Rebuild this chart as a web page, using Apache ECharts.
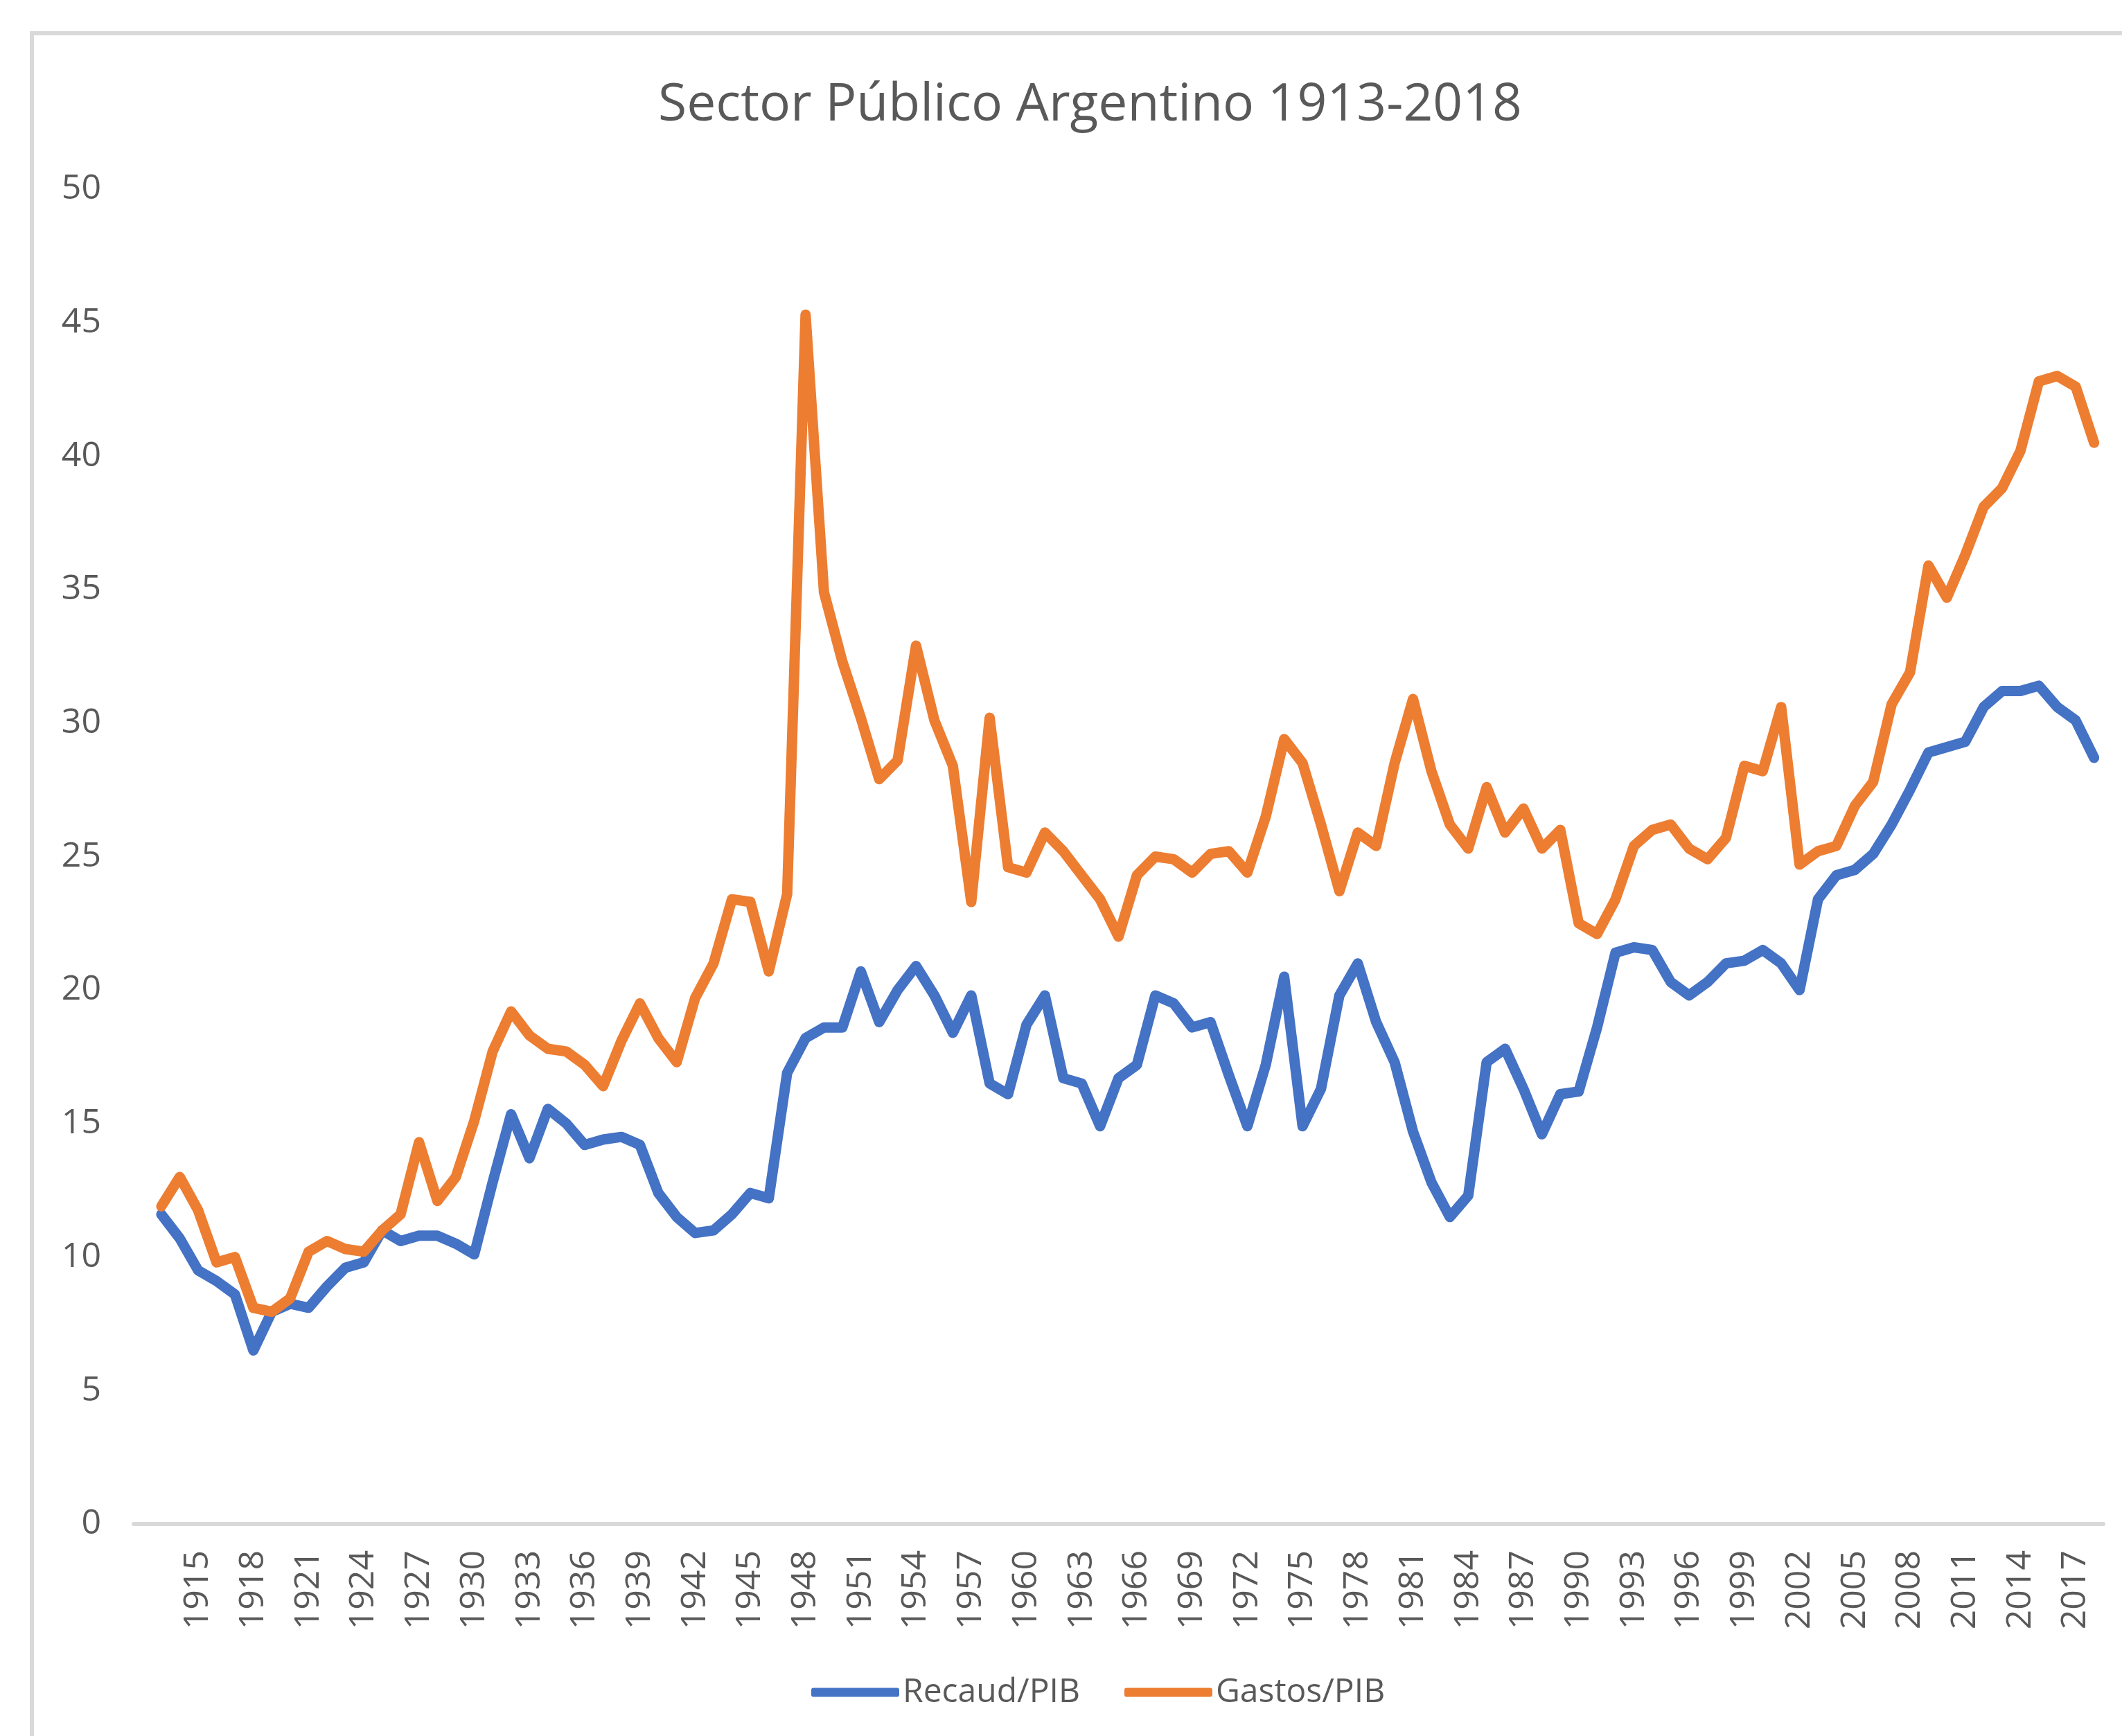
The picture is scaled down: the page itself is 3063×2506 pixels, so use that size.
<!DOCTYPE html>
<html>
<head>
<meta charset="utf-8">
<title>Sector Público Argentino 1913-2018</title>
<script src="https://cdn.jsdelivr.net/npm/echarts@6/dist/echarts.min.js"></script>
<style>
  html, body { margin: 0; padding: 0; background: #fff; }
  #chart { width: 3063px; height: 2506px; }
</style>
</head>
<body>
<div id="chart"></div>
<script>
// Años: el primer lugar vacío es el hueco que deja la planilla antes de 1913
const years = ['',
  '1913', '1914', '1915', '1916', '1917', '1918', '1919', '1920', '1921', '1922',
  '1923', '1924', '1925', '1926', '1927', '1928', '1929', '1930', '1931', '1932',
  '1933', '1934', '1935', '1936', '1937', '1938', '1939', '1940', '1941', '1942',
  '1943', '1944', '1945', '1946', '1947', '1948', '1949', '1950', '1951', '1952',
  '1953', '1954', '1955', '1956', '1957', '1958', '1959', '1960', '1961', '1962',
  '1963', '1964', '1965', '1966', '1967', '1968', '1969', '1970', '1971', '1972',
  '1973', '1974', '1975', '1976', '1977', '1978', '1979', '1980', '1981', '1982',
  '1983', '1984', '1985', '1986', '1987', '1988', '1989', '1990', '1991', '1992',
  '1993', '1994', '1995', '1996', '1997', '1998', '1999', '2000', '2001', '2002',
  '2003', '2004', '2005', '2006', '2007', '2008', '2009', '2010', '2011', '2012',
  '2013', '2014', '2015', '2016', '2017', '2018'];

// Recaudación / PIB (%)
const recaudPIB = [null,
  11.6, 10.7, 9.5, 9.1, 8.6, 6.5, 7.95, 8.25, 8.1, 8.9,
  9.6, 9.8, 11.0, 10.6, 10.8, 10.8, 10.5, 10.1, 12.8, 15.35,
  13.7, 15.55, 15.0, 14.2, 14.4, 14.5, 14.2, 12.4, 11.5, 10.9,
  11.0, 11.6, 12.4, 12.2, 16.9, 18.2, 18.6, 18.6, 20.7, 18.8,
  20.0, 20.9, 19.8, 18.4, 19.8, 16.5, 16.1, 18.7, 19.8, 16.7,
  16.5, 14.9, 16.7, 17.2, 19.8, 19.5, 18.6, 18.8, 16.8, 14.9,
  17.2, 20.5, 14.9, 16.3, 19.8, 21.0, 18.8, 17.3, 14.7, 12.8,
  11.5, 12.3, 17.3, 17.8, 16.3, 14.6, 16.1, 16.2, 18.6, 21.4,
  21.6, 21.5, 20.3, 19.8, 20.3, 21.0, 21.1, 21.5, 21.0, 20.0,
  23.4, 24.3, 24.5, 25.1, 26.2, 27.5, 28.9, 29.1, 29.3, 30.6,
  31.2, 31.2, 31.4, 30.6, 30.1, 28.7];

// Gastos / PIB (%)
const gastosPIB = [null,
  11.9, 13.0, 11.75, 9.8, 10.0, 8.1, 7.95, 8.45, 10.2, 10.6,
  10.3, 10.2, 11.0, 11.6, 14.3, 12.1, 13.0, 15.1, 17.7, 19.2,
  18.3, 17.8, 17.7, 17.2, 16.4, 18.1, 19.5, 18.2, 17.3, 19.7,
  21.0, 23.4, 23.3, 20.7, 23.6, 45.3, 34.9, 32.3, 30.2, 27.9,
  28.6, 32.9, 30.1, 28.4, 23.3, 30.2, 24.6, 24.4, 25.9, 25.2,
  24.3, 23.4, 22.0, 24.3, 25.0, 24.9, 24.4, 25.1, 25.2, 24.4,
  26.5, 29.4, 28.5, 26.2, 23.7, 25.9, 25.4, 28.5, 30.9, 28.2,
  26.2, 25.3, 27.6, 25.9, 26.8, 25.3, 26.0, 22.5, 22.1, 23.4,
  25.4, 26.0, 26.2, 25.3, 24.9, 25.7, 28.4, 28.2, 30.6, 24.7,
  25.2, 25.4, 26.9, 27.8, 30.7, 31.9, 35.9, 34.7, 36.3, 38.1,
  38.8, 40.2, 42.8, 43.0, 42.6, 40.5];

const myChart = echarts.init(document.getElementById('chart'));

const option = {
  animation: false,
  backgroundColor: '#ffffff',
  textStyle: { fontFamily: 'Open Sans' },
  // borde del área del gráfico (recortado a la derecha y abajo)
  graphic: [{
    type: 'rect',
    silent: true,
    shape: { x: 46, y: 48, width: 3300, height: 2700 },
    style: { fill: 'none', stroke: '#d9d9d9', lineWidth: 6 }
  }],
  title: {
    text: 'Sector Público Argentino 1913-2018',
    left: 945,
    top: 110,
    textStyle: { fontSize: 75, fontWeight: 'normal', color: '#595959', fontFamily: 'Open Sans' }
  },
  legend: {
    data: ['Recaud/PIB', 'Gastos/PIB'],
    left: 1166,
    top: 2414,
    icon: 'roundRect',
    itemWidth: 127,
    itemHeight: 13,
    itemGap: 64,
    lineStyle: { width: 13, cap: 'round' },
    textStyle: { fontSize: 48, color: '#595959', fontFamily: 'Open Sans' }
  },
  grid: { left: 193, right: 27, top: 273, bottom: 306 },
  xAxis: {
    type: 'category',
    data: years,
    boundaryGap: true,
    axisLine: { lineStyle: { color: '#d9d9d9', width: 6 } },
    axisTick: { show: false },
    axisLabel: { interval: 2, rotate: 90, margin: 38, fontSize: 50, color: '#595959' }
  },
  yAxis: {
    type: 'value',
    min: 0,
    max: 50,
    interval: 5,
    splitLine: { show: false },
    axisLine: { show: false },
    axisTick: { show: false },
    axisLabel: { margin: 47, fontSize: 50, color: '#595959' }
  },
  series: [
    {
      name: 'Recaud/PIB',
      type: 'line',
      data: recaudPIB,
      symbol: 'none',
      color: '#4472C4',
      lineStyle: { width: 15, color: '#4472C4', cap: 'round', join: 'round' }
    },
    {
      name: 'Gastos/PIB',
      type: 'line',
      data: gastosPIB,
      symbol: 'none',
      color: '#ED7D31',
      lineStyle: { width: 15, color: '#ED7D31', cap: 'round', join: 'round' }
    }
  ]
};

myChart.setOption(option);
</script>
</body>
</html>
